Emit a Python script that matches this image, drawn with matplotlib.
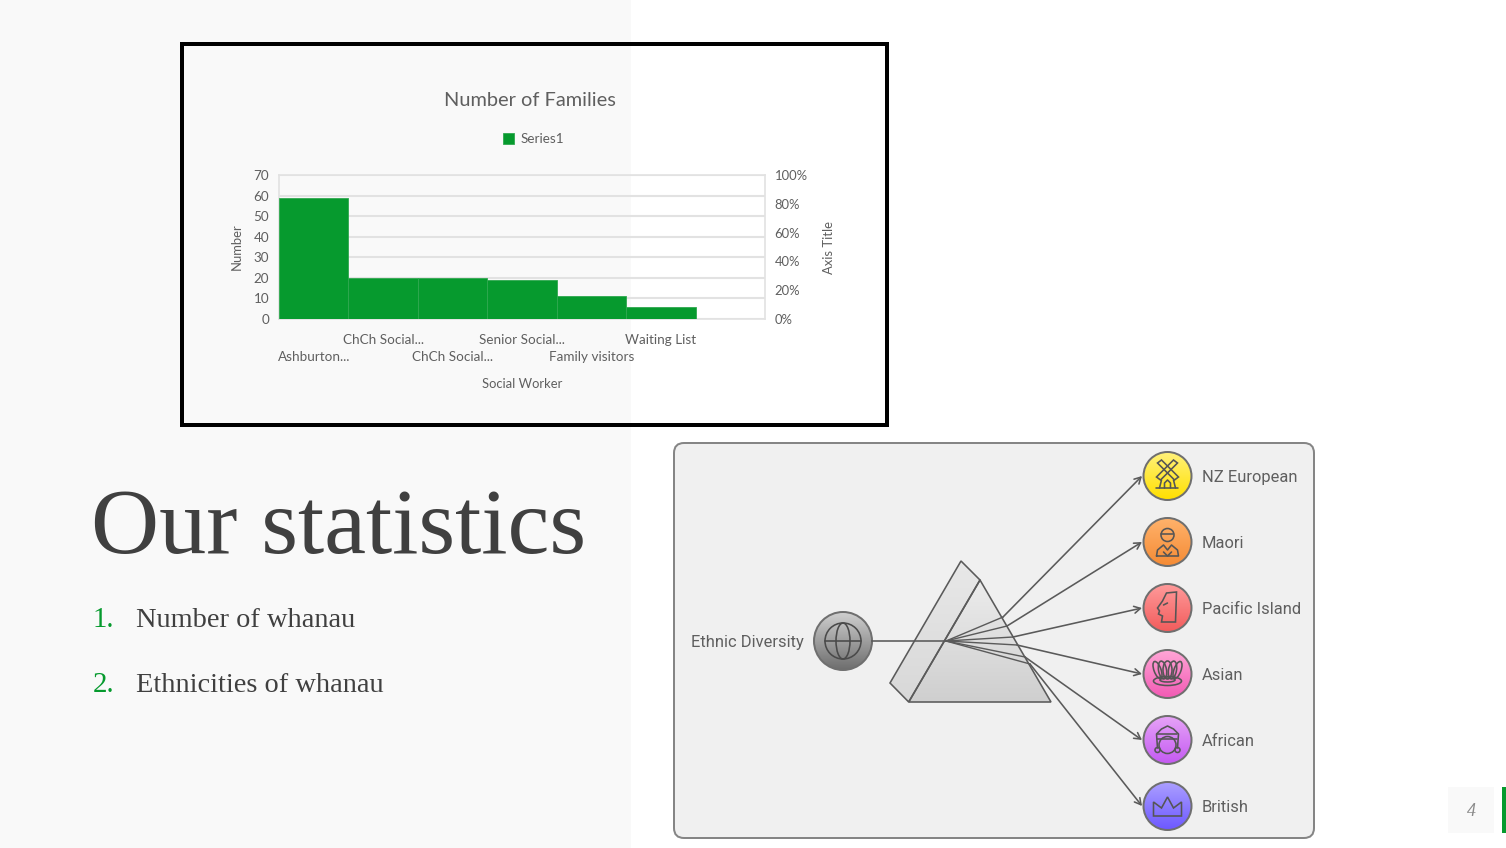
import numpy as np
import matplotlib
matplotlib.use("Agg")
import matplotlib.pyplot as plt
from matplotlib.patches import Rectangle, Circle, Ellipse, Polygon, FancyBboxPatch
from matplotlib.colors import LinearSegmentedColormap

# ---- data
categories = ["Ashburton...", "ChCh Social...", "ChCh Social...", "Senior Social...",
              "Family visitors", "Waiting List", ""]
families = [59, 20, 20, 19, 11, 6, 0]
left_ticks = [0, 10, 20, 30, 40, 50, 60, 70]
right_ticks = [0, 20, 40, 60, 80, 100]
list_items = ["Number of whanau", "Ethnicities of whanau"]
ethnicities = ["NZ European", "Maori", "Pacific Island", "Asian", "African", "British"]
eth_top = ["#fff27a", "#ffb26b", "#ff9a9a", "#ffa6d6", "#e6a3f7", "#ab9fff"]
eth_bot = ["#ffdf00", "#f58b35", "#f25c5c", "#f25ab4", "#c45af2", "#6d58ff"]

GREEN = "#069a2e"
TXT = "#5f5f5f"
W, H = 1506, 848
fig = plt.figure(figsize=(W / 100, H / 100), dpi=100, facecolor="white")
bg = fig.add_axes([0, 0, 1, 1])
bg.set_xlim(0, W); bg.set_ylim(H, 0); bg.axis("off")
px = 0.72

# slide background
bg.add_patch(Rectangle((0, 0), 631, H, fc="#f9f9f9", ec="none", zorder=0))
bg.add_patch(Rectangle((182, 44), 705, 381, fc="none", ec="black", lw=4 * px, zorder=5))
bg.add_patch(Rectangle((1448, 787), 46, 46, fc="#f9f9f9", ec="none"))
bg.add_patch(Rectangle((1502, 787), 4, 46, fc=GREEN, ec="none"))
bg.text(1471, 811, "4", family="Liberation Serif", style="italic", fontsize=13, color="#8a8a8a",
        ha="center", va="center")

# headline and list
bg.text(91, 553, "Our statistics", family="Liberation Serif", fontsize=94.4 * px, color="#404040",
        ha="left", va="baseline")
for i, item in enumerate(list_items):
    y = 627 + 64.5 * i
    bg.text(93, y, f"{i + 1}.", family="Liberation Serif", fontsize=29 * px, color=GREEN, va="baseline")
    bg.text(136, y, item, family="Liberation Serif", fontsize=28.4 * px, color="#404040", va="baseline")

# ---- chart
l, r, t, b = 279, 765, 175, 319
ax = fig.add_axes([l / W, 1 - b / H, (r - l) / W, (b - t) / H], facecolor="none")
x = np.arange(len(categories))
ax.bar(x, families, width=1.0, color=GREEN, edgecolor="#2fa84f", linewidth=0.6, label="Series1", zorder=3)
ax.set_xlim(-0.5, len(categories) - 0.5)
ax.set_ylim(0, 70)
ax.set_yticks(left_ticks)
ax.set_xticks(x, categories)
ax.grid(axis="y", color="#e2e2e2", lw=1.5, zorder=1)
for s in ax.spines.values():
    s.set_color("#e2e2e2"); s.set_linewidth(1.2)
ax.tick_params(axis="both", length=0, labelsize=13.5 * px, labelcolor=TXT, labelfontfamily="Lato")
ax.tick_params(axis="y", pad=7)
for i, tick in enumerate(ax.xaxis.get_major_ticks()):
    tick.set_pad(23 if i % 2 == 0 else 11)
ax.set_title("Number of Families", family="Lato", fontsize=20 * px, color=TXT, x=0.516, pad=49.5)
ax.set_ylabel("Number", family="Lato", fontsize=13 * px, color=TXT)
ax.yaxis.set_label_coords((243 - l) / (r - l), 0.5)
ax.set_xlabel("Social Worker", family="Lato", fontsize=13 * px, color=TXT, va="center")
ax.xaxis.set_label_coords(0.5, -(384 - b) / (b - t))
ax2 = ax.twinx()
ax2.set_ylim(0, 100)
ax2.set_yticks(right_ticks, [f"{v}%" for v in right_ticks])
ax2.tick_params(axis="y", length=0, pad=7, labelsize=13 * px, labelcolor=TXT, labelfontfamily="Lato")
for s in ax2.spines.values():
    s.set_visible(False)
ax2.set_ylabel("Axis Title", family="Lato", fontsize=13 * px, color=TXT)
ax2.yaxis.set_label_coords((823 - l) / (r - l), 0.5)
ax.legend(loc="center", bbox_to_anchor=(533.5, 139), bbox_transform=bg.transData, frameon=False,
          handlelength=0.85, handleheight=0.85, handletextpad=0.45,
          prop={"family": "Lato", "size": 13.5 * px}, labelcolor=TXT)

# ---- diagram
LINE = "#5a5a5a"
panel = FancyBboxPatch((684, 453), 620, 375, boxstyle="round,pad=10,rounding_size=10",
                       fc="#f0f0f0", ec="#858585", lw=2 * px, zorder=1)
bg.add_patch(panel)


def gradient(patch, top, bot, extent, zorder=2):
    cmap = LinearSegmentedColormap.from_list("g", [top, bot])
    im = bg.imshow(np.linspace(0, 1, 64).reshape(-1, 1), cmap=cmap, extent=extent, aspect="auto",
                   zorder=zorder, interpolation="bilinear", origin="upper")
    bg.add_patch(patch)
    im.set_clip_path(patch)


def gcircle(cx, cy, rad, top, bot):
    c = Circle((cx, cy), rad, fc="none", ec="#6f6f6f", lw=2 * px, zorder=3)
    gradient(c, top, bot, (cx - rad, cx + rad, cy + rad, cy - rad))


# prism
side = [(961, 561), (980, 580), (908.7, 702), (890, 683)]
front = [(980, 580), (908.7, 702), (1051, 702)]
gradient(Polygon(side, closed=True, fc="none", ec=LINE, lw=1.6 * px, zorder=3), "#e8e8e8", "#d8d8d8",
         (890, 980, 702, 561))
gradient(Polygon(front, closed=True, fc="none", ec=LINE, lw=1.6 * px, zorder=3), "#ececec", "#cfcfcf",
         (908, 1051, 702, 580))

# rays
origin = (946, 641)
bg.plot([872, origin[0]], [641, origin[1]], color=LINE, lw=1.6 * px, zorder=4)
exits = [(1003, 617), (1007, 626), (1013, 637), (1017, 645), (1025, 657), (1030, 664)]
row_y = [476 + 66 * i for i in range(len(ethnicities))]
for (ex, ey), cy, in zip(exits, row_y):
    bg.plot([origin[0], ex], [origin[1], ey], color=LINE, lw=1.4 * px, zorder=4)
    bg.annotate("", xy=(1142, cy), xytext=(ex, ey), zorder=4,
                arrowprops=dict(arrowstyle="->,head_length=0.45,head_width=0.25", color=LINE, lw=1.6 * px,
                                shrinkA=0, shrinkB=0))

# source node
gcircle(843, 641, 29, "#cfcfcf", "#6e6e6e")
bg.add_patch(Circle((843, 641), 18, fc="none", ec="#4a4a4a", lw=1.6 * px, zorder=5))
bg.add_patch(Ellipse((843, 641), 14, 36, fc="none", ec="#4a4a4a", lw=1.6 * px, zorder=5))
bg.plot([825, 861], [641, 641], color="#4a4a4a", lw=1.6 * px, zorder=5)
bg.text(747, 642, "Ethnic Diversity", family="Roboto", fontsize=16.5 * px, color=TXT, ha="center", va="center")

ICON = "#555555"
ik = dict(color=ICON, lw=1.6 * px, zorder=6, solid_capstyle="round")
pk = dict(fc="none", ec=ICON, lw=1.6 * px, zorder=6)


def rel(pts, cx, cy):
    return [(cx + a, cy + b_) for a, b_ in pts]


def line(pts, cx, cy):
    p = rel(pts, cx, cy)
    bg.plot([q[0] for q in p], [q[1] for q in p], **ik)


def windmill(cx, cy):
    for s in (1, -1):
        bg.add_patch(Polygon(rel([(-10 * s, -13), (-6 * s, -16), (11 * s, 1), (7 * s, 4)], cx, cy), closed=True, **pk))
    line([(-6, 4), (-8, 12)], cx, cy); line([(6, 4), (8, 12)], cx, cy)
    line([(-11, 12), (11, 12)], cx, cy)
    line([(-3, 12), (-3, 7), (0, 4), (3, 7), (3, 12)], cx, cy)


def person(cx, cy):
    bg.add_patch(Circle((cx, cy - 7), 6.5, **pk))
    line([(-6, -8), (6, -8)], cx, cy)
    line([(-11, 14), (-10, 8), (-4, 3), (0, 8), (4, 3), (10, 8), (11, 14), (-11, 14)], cx, cy)
    line([(-4, 10), (0, 14), (4, 10)], cx, cy)


def moai(cx, cy):
    bg.add_patch(Polygon(rel([(-1, -15), (9, -16), (8, 14), (-6, 14), (-5, 8), (-9, 6), (-8, 3), (-10, 0),
                              (-5, -7)], cx, cy), closed=True, **pk))
    line([(-4, -3), (0, -5)], cx, cy)


def lotus(cx, cy):
    for dx, w in ((0, 9), (-5, 8), (5, 8), (-10, 7), (10, 7)):
        bg.add_patch(Ellipse((cx + dx, cy - 4), w, 18, angle=dx * 2, **pk))
    bg.add_patch(Ellipse((cx, cy + 7), 28, 9, **pk))
    bg.add_patch(Ellipse((cx, cy + 6), 15, 4, **pk))


def african(cx, cy):
    bg.add_patch(Ellipse((cx, cy + 5), 17, 17, **pk))
    line([(-10, 8), (-11, -6), (-6, -11), (0, -14), (6, -11), (11, -6), (10, 8)], cx, cy)
    line([(-10, -6), (10, -6)], cx, cy); line([(-10, -1), (10, -1)], cx, cy)
    bg.add_patch(Circle((cx - 10, cy + 10), 2.5, **pk))
    bg.add_patch(Circle((cx + 10, cy + 10), 2.5, **pk))


def crown(cx, cy):
    bg.add_patch(Polygon(rel([(-14, -4), (-6, 2), (0, -9), (6, 2), (14, -4), (14, 10), (-14, 10)], cx, cy),
                         closed=True, **pk))


icons = [windmill, person, moai, lotus, african, crown]
for name, cy, top, bot, icon in zip(ethnicities, row_y, eth_top, eth_bot, icons):
    gcircle(1167.5, cy, 24, top, bot)
    icon(1167.5, cy)
    bg.text(1202, cy + 1.5, name, family="Roboto", fontsize=16.5 * px, color=TXT, ha="left", va="center")

bg.set_xlim(0, W); bg.set_ylim(H, 0)
fig.savefig("out.png", dpi=100)
